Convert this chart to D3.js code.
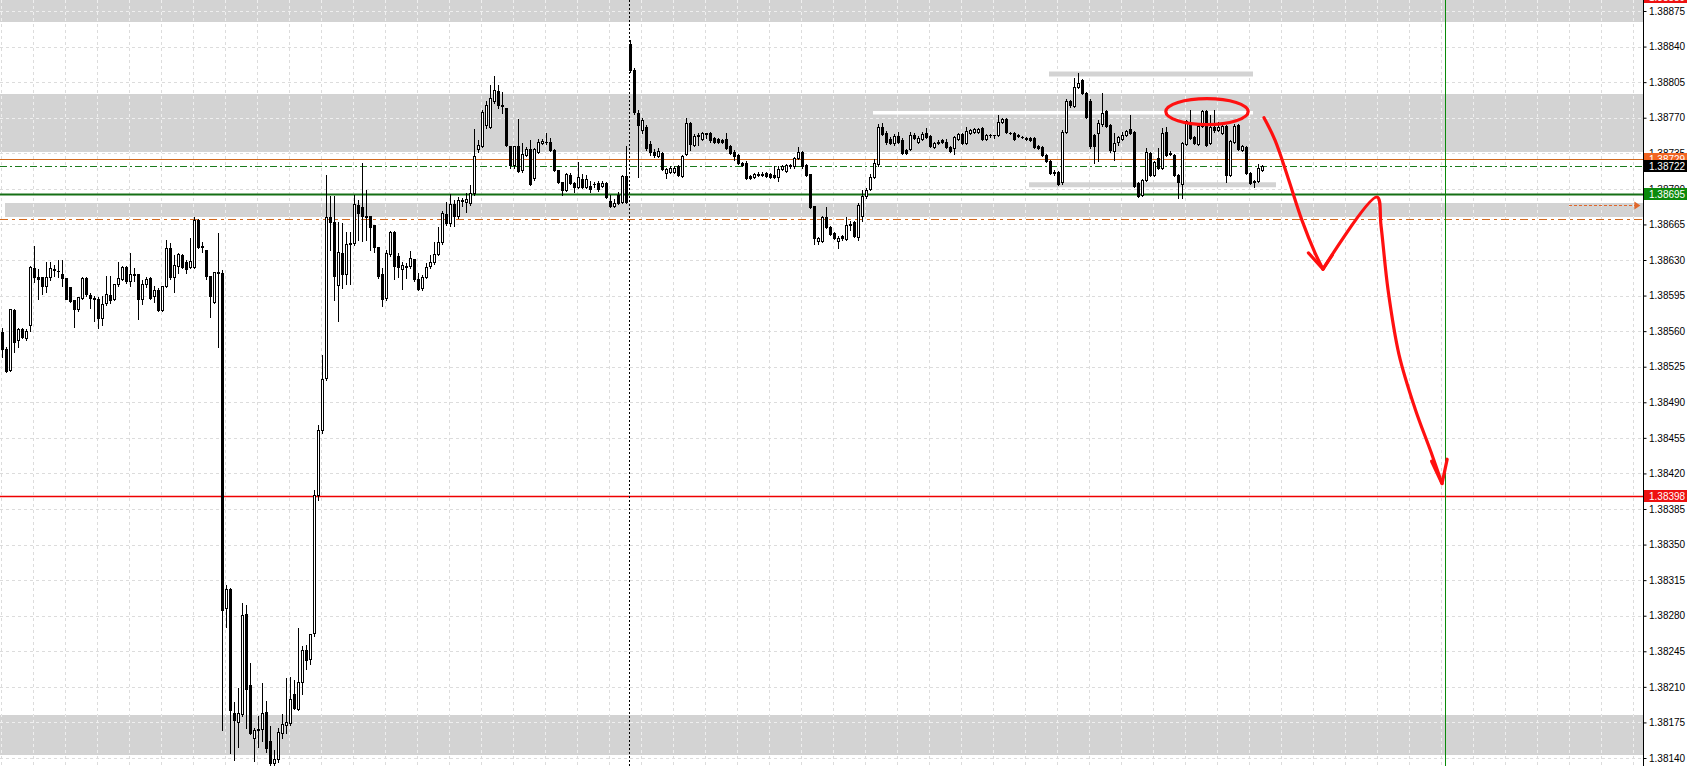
<!DOCTYPE html>
<html><head><meta charset="utf-8">
<script src="https://cdn.jsdelivr.net/npm/d3@7"></script>
<style>html,body{margin:0;padding:0;background:#fff;overflow:hidden}</style>
</head><body><svg id="c" width="1687" height="766"></svg>
<script>
// ---------------- data ----------------
const opens = [
1.38559,1.38542,1.38522,1.38581,1.38551,1.38562,1.38553,1.38566,1.38622,1.38613,
1.38613,1.38604,1.38613,1.38621,1.38619,1.38616,1.38612,1.38603,1.38591,1.38582,
1.38593,1.38612,1.38596,1.38593,1.38592,1.38573,1.38588,1.38596,1.38592,1.38606,
1.38611,1.38623,1.38609,1.38616,1.38616,1.38592,1.38606,1.38612,1.38595,1.38600,
1.38581,1.38604,1.38642,1.38613,1.38624,1.38635,1.38628,1.38623,1.38623,1.38669,
1.38643,1.38640,1.38614,1.38589,1.38618,1.38617,1.38288,1.38306,1.38184,1.38175,
1.38183,1.38282,1.38212,1.38160,1.38169,1.38169,1.38185,1.38157,1.38135,1.38139,
1.38165,1.38172,1.38174,1.38203,1.38188,1.38215,1.38246,1.38237,1.38263,1.38399,
1.38463,1.38514,1.38672,1.38667,1.38605,1.38637,1.38616,1.38647,1.38647,1.38684,
1.38682,1.38673,1.38673,1.38664,1.38643,1.38616,1.38593,1.38636,1.38658,1.38634,
1.38621,1.38624,1.38624,1.38631,1.38611,1.38602,1.38613,1.38624,1.38628,1.38636,
1.38648,1.38675,1.38666,1.38685,1.38673,1.38688,1.38687,1.38686,1.38696,1.38739,
1.38742,1.38763,1.38761,1.38786,1.38796,1.38783,1.38780,1.38742,1.38723,1.38742,
1.38719,1.38733,1.38739,1.38711,1.38736,1.38745,1.38746,1.38746,1.38738,1.38719,
1.38707,1.38699,1.38714,1.38706,1.38702,1.38710,1.38702,1.38703,1.38705,1.38706,
1.38703,1.38706,1.38688,1.38683,1.38694,1.38687,1.38713,1.38843,1.38817,1.38775,
1.38758,1.38761,1.38744,1.38736,1.38732,1.38735,1.38716,1.38717,1.38717,1.38722,
1.38713,1.38734,1.38765,1.38743,1.38752,1.38749,1.38754,1.38755,1.38750,1.38749,
1.38748,1.38749,1.38742,1.38736,1.38733,1.38725,1.38725,1.38713,1.38712,1.38715,
1.38714,1.38716,1.38715,1.38714,1.38712,1.38720,1.38718,1.38722,1.38722,1.38730,
1.38736,1.38723,1.38715,1.38683,1.38649,1.38649,1.38672,1.38662,1.38657,1.38649,
1.38654,1.38651,1.38664,1.38667,1.38653,1.38673,1.38693,1.38700,1.38712,1.38724,
1.38761,1.38755,1.38749,1.38745,1.38752,1.38748,1.38738,1.38739,1.38753,1.38746,
1.38749,1.38755,1.38752,1.38741,1.38745,1.38748,1.38746,1.38741,1.38740,1.38749,
1.38754,1.38745,1.38755,1.38756,1.38756,1.38760,1.38749,1.38753,1.38753,1.38753,
1.38766,1.38769,1.38755,1.38755,1.38753,1.38751,1.38750,1.38750,1.38750,1.38742,
1.38741,1.38733,1.38727,1.38717,1.38717,1.38707,1.38756,1.38786,1.38782,1.38800,
1.38807,1.38794,1.38786,1.38753,1.38755,1.38764,1.38777,1.38763,1.38737,1.38746,
1.38749,1.38753,1.38759,1.38756,1.38706,1.38694,1.38709,1.38735,1.38714,1.38730,
1.38721,1.38756,1.38735,1.38733,1.38714,1.38705,1.38744,1.38766,1.38751,1.38744,
1.38762,1.38777,1.38745,1.38761,1.38758,1.38755,1.38762,1.38714,1.38746,1.38763,
1.38738,1.38741,1.38716,1.38708,1.38708,1.38719];
const highs = [
1.38563,1.38544,1.38582,1.38582,1.38563,1.38563,1.38562,1.38624,1.38644,1.38621,
1.38613,1.38628,1.38628,1.38625,1.38630,1.38630,1.38612,1.38603,1.38591,1.38594,
1.38613,1.38613,1.38598,1.38595,1.38594,1.38595,1.38614,1.38614,1.38606,1.38628,
1.38624,1.38624,1.38637,1.38622,1.38616,1.38610,1.38613,1.38613,1.38604,1.38602,
1.38604,1.38650,1.38647,1.38635,1.38637,1.38636,1.38630,1.38652,1.38672,1.38670,
1.38648,1.38640,1.38614,1.38618,1.38657,1.38620,1.38310,1.38307,1.38195,1.38209,
1.38293,1.38291,1.38233,1.38170,1.38181,1.38214,1.38196,1.38171,1.38148,1.38170,
1.38183,1.38219,1.38220,1.38217,1.38268,1.38250,1.38251,1.38262,1.38404,1.38468,
1.38537,1.38714,1.38693,1.38693,1.38667,1.38666,1.38658,1.38658,1.38694,1.38689,
1.38725,1.38699,1.38673,1.38664,1.38643,1.38622,1.38640,1.38659,1.38659,1.38637,
1.38628,1.38627,1.38639,1.38631,1.38617,1.38615,1.38627,1.38635,1.38648,1.38662,
1.38678,1.38687,1.38695,1.38689,1.38692,1.38691,1.38696,1.38704,1.38759,1.38748,
1.38778,1.38786,1.38802,1.38811,1.38802,1.38795,1.38780,1.38742,1.38742,1.38769,
1.38745,1.38741,1.38748,1.38740,1.38749,1.38749,1.38755,1.38750,1.38739,1.38719,
1.38707,1.38716,1.38716,1.38707,1.38726,1.38715,1.38714,1.38708,1.38707,1.38708,
1.38708,1.38707,1.38694,1.38690,1.38697,1.38714,1.38742,1.38846,1.38819,1.38778,
1.38770,1.38763,1.38747,1.38739,1.38740,1.38736,1.38721,1.38722,1.38722,1.38723,
1.38733,1.38770,1.38766,1.38754,1.38755,1.38756,1.38755,1.38756,1.38751,1.38750,
1.38749,1.38755,1.38743,1.38738,1.38734,1.38726,1.38727,1.38714,1.38716,1.38717,
1.38717,1.38717,1.38716,1.38722,1.38722,1.38723,1.38724,1.38724,1.38731,1.38741,
1.38737,1.38724,1.38715,1.38683,1.38653,1.38673,1.38682,1.38663,1.38658,1.38654,
1.38655,1.38672,1.38668,1.38668,1.38686,1.38699,1.38701,1.38715,1.38729,1.38764,
1.38765,1.38757,1.38751,1.38754,1.38756,1.38750,1.38739,1.38756,1.38755,1.38752,
1.38756,1.38760,1.38753,1.38746,1.38748,1.38749,1.38749,1.38742,1.38752,1.38755,
1.38755,1.38761,1.38759,1.38760,1.38760,1.38761,1.38754,1.38754,1.38753,1.38773,
1.38770,1.38770,1.38756,1.38756,1.38754,1.38752,1.38751,1.38751,1.38751,1.38743,
1.38742,1.38734,1.38728,1.38719,1.38718,1.38758,1.38788,1.38787,1.38809,1.38814,
1.38808,1.38795,1.38788,1.38754,1.38768,1.38794,1.38778,1.38764,1.38755,1.38752,
1.38756,1.38758,1.38773,1.38757,1.38707,1.38710,1.38740,1.38736,1.38727,1.38740,
1.38760,1.38761,1.38737,1.38734,1.38715,1.38746,1.38768,1.38778,1.38752,1.38765,
1.38778,1.38778,1.38773,1.38778,1.38766,1.38764,1.38763,1.38748,1.38764,1.38764,
1.38743,1.38742,1.38717,1.38709,1.38724,1.38723];
const lows = [
1.38535,1.38520,1.38521,1.38539,1.38544,1.38553,1.38551,1.38560,1.38608,1.38592,
1.38597,1.38599,1.38610,1.38614,1.38613,1.38604,1.38592,1.38589,1.38564,1.38580,
1.38592,1.38595,1.38583,1.38570,1.38563,1.38566,1.38586,1.38588,1.38591,1.38604,
1.38610,1.38607,1.38604,1.38609,1.38572,1.38587,1.38603,1.38592,1.38589,1.38580,
1.38580,1.38603,1.38611,1.38599,1.38617,1.38622,1.38617,1.38622,1.38622,1.38642,
1.38638,1.38611,1.38574,1.38588,1.38544,1.38168,1.38269,1.38145,1.38138,1.38151,
1.38181,1.38170,1.38164,1.38137,1.38151,1.38157,1.38146,1.38133,1.38133,1.38136,
1.38160,1.38165,1.38172,1.38188,1.38187,1.38203,1.38228,1.38232,1.38260,1.38394,
1.38460,1.38512,1.38640,1.38591,1.38570,1.38602,1.38606,1.38606,1.38645,1.38650,
1.38649,1.38650,1.38640,1.38638,1.38612,1.38585,1.38591,1.38634,1.38611,1.38613,
1.38601,1.38612,1.38622,1.38609,1.38600,1.38600,1.38612,1.38622,1.38626,1.38635,
1.38646,1.38664,1.38663,1.38663,1.38671,1.38683,1.38677,1.38684,1.38694,1.38736,
1.38741,1.38760,1.38760,1.38784,1.38780,1.38775,1.38742,1.38721,1.38721,1.38717,
1.38717,1.38732,1.38704,1.38709,1.38735,1.38744,1.38744,1.38737,1.38718,1.38706,
1.38694,1.38698,1.38705,1.38697,1.38701,1.38701,1.38701,1.38697,1.38702,1.38698,
1.38702,1.38691,1.38682,1.38682,1.38685,1.38686,1.38686,1.38815,1.38774,1.38712,
1.38755,1.38738,1.38733,1.38731,1.38731,1.38719,1.38711,1.38716,1.38716,1.38713,
1.38712,1.38733,1.38738,1.38742,1.38743,1.38748,1.38750,1.38746,1.38745,1.38745,
1.38745,1.38739,1.38734,1.38728,1.38724,1.38722,1.38710,1.38710,1.38711,1.38713,
1.38713,1.38712,1.38711,1.38711,1.38708,1.38719,1.38717,1.38721,1.38721,1.38729,
1.38721,1.38713,1.38681,1.38646,1.38646,1.38648,1.38661,1.38655,1.38651,1.38642,
1.38650,1.38650,1.38660,1.38653,1.38650,1.38668,1.38691,1.38699,1.38711,1.38722,
1.38753,1.38744,1.38744,1.38743,1.38745,1.38734,1.38734,1.38738,1.38749,1.38745,
1.38748,1.38750,1.38741,1.38740,1.38744,1.38745,1.38740,1.38736,1.38734,1.38748,
1.38744,1.38744,1.38754,1.38755,1.38755,1.38748,1.38748,1.38751,1.38750,1.38752,
1.38765,1.38755,1.38754,1.38748,1.38751,1.38750,1.38748,1.38747,1.38740,1.38739,
1.38732,1.38726,1.38715,1.38714,1.38704,1.38705,1.38755,1.38781,1.38781,1.38799,
1.38793,1.38770,1.38740,1.38725,1.38727,1.38762,1.38761,1.38736,1.38728,1.38743,
1.38748,1.38752,1.38754,1.38702,1.38692,1.38693,1.38708,1.38713,1.38713,1.38720,
1.38720,1.38732,1.38733,1.38713,1.38691,1.38691,1.38743,1.38749,1.38744,1.38743,
1.38761,1.38742,1.38744,1.38756,1.38757,1.38754,1.38707,1.38713,1.38745,1.38738,
1.38737,1.38715,1.38705,1.38702,1.38707,1.38718];
const closes = [
1.38542,1.38521,1.38582,1.38549,1.38562,1.38554,1.38560,1.38623,1.38613,1.38611,
1.38604,1.38613,1.38622,1.38620,1.38619,1.38612,1.38592,1.38590,1.38582,1.38594,
1.38612,1.38597,1.38593,1.38592,1.38573,1.38587,1.38597,1.38591,1.38606,1.38612,
1.38623,1.38609,1.38616,1.38615,1.38592,1.38606,1.38611,1.38593,1.38600,1.38581,
1.38604,1.38642,1.38613,1.38625,1.38636,1.38623,1.38621,1.38629,1.38669,1.38643,
1.38644,1.38614,1.38595,1.38618,1.38617,1.38286,1.38306,1.38187,1.38177,1.38184,
1.38281,1.38208,1.38165,1.38168,1.38168,1.38184,1.38150,1.38135,1.38139,1.38166,
1.38173,1.38175,1.38198,1.38189,1.38215,1.38246,1.38236,1.38262,1.38399,1.38463,
1.38513,1.38672,1.38667,1.38614,1.38638,1.38616,1.38646,1.38646,1.38685,1.38676,
1.38673,1.38672,1.38662,1.38643,1.38614,1.38592,1.38637,1.38658,1.38624,1.38623,
1.38625,1.38623,1.38632,1.38611,1.38601,1.38613,1.38623,1.38628,1.38636,1.38648,
1.38676,1.38666,1.38685,1.38673,1.38689,1.38689,1.38690,1.38696,1.38732,1.38743,
1.38776,1.38783,1.38789,1.38797,1.38783,1.38782,1.38743,1.38723,1.38742,1.38718,
1.38734,1.38739,1.38705,1.38739,1.38746,1.38747,1.38746,1.38738,1.38719,1.38707,
1.38699,1.38715,1.38706,1.38702,1.38712,1.38702,1.38710,1.38700,1.38705,1.38700,
1.38706,1.38692,1.38683,1.38686,1.38686,1.38713,1.38687,1.38817,1.38776,1.38763,
1.38768,1.38740,1.38736,1.38733,1.38737,1.38720,1.38720,1.38721,1.38721,1.38714,
1.38732,1.38765,1.38744,1.38752,1.38753,1.38755,1.38755,1.38748,1.38746,1.38746,
1.38746,1.38740,1.38735,1.38732,1.38725,1.38723,1.38711,1.38711,1.38715,1.38714,
1.38715,1.38713,1.38712,1.38712,1.38720,1.38722,1.38723,1.38723,1.38730,1.38736,
1.38722,1.38714,1.38682,1.38652,1.38652,1.38672,1.38662,1.38656,1.38652,1.38652,
1.38652,1.38664,1.38665,1.38654,1.38684,1.38693,1.38699,1.38712,1.38725,1.38761,
1.38754,1.38746,1.38745,1.38752,1.38746,1.38735,1.38735,1.38753,1.38750,1.38750,
1.38754,1.38751,1.38742,1.38745,1.38746,1.38746,1.38741,1.38737,1.38751,1.38754,
1.38745,1.38757,1.38758,1.38759,1.38759,1.38749,1.38753,1.38753,1.38753,1.38766,
1.38769,1.38756,1.38755,1.38749,1.38752,1.38751,1.38749,1.38748,1.38741,1.38740,
1.38733,1.38727,1.38716,1.38716,1.38705,1.38756,1.38786,1.38783,1.38800,1.38804,
1.38794,1.38771,1.38742,1.38742,1.38765,1.38775,1.38762,1.38738,1.38745,1.38751,
1.38753,1.38757,1.38755,1.38703,1.38693,1.38709,1.38736,1.38714,1.38726,1.38721,
1.38755,1.38733,1.38734,1.38714,1.38707,1.38745,1.38767,1.38750,1.38745,1.38762,
1.38777,1.38743,1.38761,1.38758,1.38761,1.38762,1.38714,1.38747,1.38762,1.38739,
1.38742,1.38716,1.38706,1.38707,1.38721,1.38722];

const tickLabels = ["1.38140","1.38175","1.38210","1.38245","1.38280","1.38315","1.38350","1.38385",
  "1.38420","1.38455","1.38490","1.38525","1.38560","1.38595","1.38630","1.38665","1.38700","1.38735",
  "1.38770","1.38805","1.38840","1.38875"];

// supply / demand zones (price ranges) and the bar index where each starts
const zoneLow   = [1.38864, 1.38736, 1.38672, 1.38143];
const zoneHigh  = [1.38910, 1.38793, 1.38686, 1.38182];
const zoneStart = [-0.5, -0.5, 0.75, -0.5];

// short horizontal marker lines (price, from bar, to bar)
const segPrice = [1.38813, 1.38775, 1.38704];
const segFrom  = [261.75, 217.75, 256.75];
const segTo    = [312.75, 312.75, 318.5];
const segColor = ["#d3d3d3", "#ffffff", "#d3d3d3"];

// horizontal levels
const levelPrice = [1.38729, 1.38722, 1.38695, 1.38670, 1.38398];
const levelLabels = [
  {p: 1.38889, t: "1.38889", bg: "#ee1111", fg: "#fff"},
  {p: 1.38729, t: "1.38729", bg: "#f26522", fg: "#fff"},
  {p: 1.38722, t: "1.38722", bg: "#000000", fg: "#fff"},
  {p: 1.38695, t: "1.38695", bg: "#0b8a0b", fg: "#fff"},
  {p: 1.38398, t: "1.38398", bg: "#ee1111", fg: "#fff"}
];
const arrowLevel = 1.38684, arrowFrom = 391.75, arrowTo = 409.6;

// vertical markers (bar index)
const periodSep = 157;
const futureLine = 360.75;

// hand-drawn annotation (bar index, price)
const ellipseC = [301.25, 1.38776], ellipseR = [10.3, 0.000128];
const path1 = [[315.5,1.38770],[318.25,1.38748],[321.5,1.38711],[325,1.38669],[328.25,1.38637],[330.25,1.38621]];
const head1 = [[326.6,1.38637],[330.25,1.38621],[332.6,1.38635]];
const path2 = [[330.25,1.38621],[343.75,1.38692],[344.75,1.38664],[346.5,1.38601],[349.25,1.38537],[353.25,1.38484],[357.25,1.38441],[360.0,1.38410]];
const head2 = [[357.4,1.38432],[360.0,1.38410],[361.3,1.38434]];

// ---------------- drawing ----------------
const W = 1687, H = 766, AXIS_X = 1643;
const svg = d3.select('#c');
const x = d3.scaleLinear().domain([0, 410]).range([2, 1642]);
const y = d3.scaleLinear().domain([1.38140, 1.38875]).range([758, 11]);
const tickVals = tickLabels.map(Number);
const FONT = "'Liberation Sans', Arial, sans-serif";

svg.append('rect').attr('width', W).attr('height', H).attr('fill', '#fff');
const defs = svg.append('defs');
defs.append('clipPath').attr('id', 'plot').append('rect').attr('x', 0).attr('y', 0).attr('width', AXIS_X).attr('height', H);
const plot = svg.append('g').attr('clip-path', 'url(#plot)');

const zones = zoneLow.map((l, i) => ({l, h: zoneHigh[i], s: zoneStart[i]}));
const zoneRect = sel => sel
  .attr('x', d => Math.round(x(d.s)))
  .attr('y', d => Math.round(y(d.h)))
  .attr('width', d => AXIS_X - Math.round(x(d.s)))
  .attr('height', d => Math.round(y(d.l)) - Math.round(y(d.h)));

plot.append('g').selectAll('rect').data(zones).join('rect').call(zoneRect).attr('fill', '#d3d3d3');
defs.append('clipPath').attr('id', 'zoneclip').selectAll('rect').data(zones).join('rect').call(zoneRect);

const gridCols = d3.range(-0.25, 410, 8);
function grid(g, color) {
  g.selectAll('line.h').data(tickVals).join('line').attr('class', 'h')
    .attr('x1', 0).attr('x2', AXIS_X)
    .attr('y1', d => Math.round(y(d)) + 0.5).attr('y2', d => Math.round(y(d)) + 0.5)
    .attr('stroke', color).attr('stroke-dasharray', '3,3');
  g.selectAll('line.v').data(gridCols).join('line').attr('class', 'v')
    .attr('x1', d => Math.round(x(d)) + 0.5).attr('x2', d => Math.round(x(d)) + 0.5)
    .attr('y1', 0).attr('y2', H)
    .attr('stroke', color).attr('stroke-dasharray', '3,3');
}
grid(plot.append('g'), '#dcdcdc');
grid(plot.append('g').attr('clip-path', 'url(#zoneclip)'), '#efefef');

// short marker segments
plot.append('g').selectAll('line').data(segPrice).join('line')
  .attr('x1', (d, i) => x(segFrom[i])).attr('x2', (d, i) => x(segTo[i]))
  .attr('y1', d => y(d)).attr('y2', d => y(d))
  .attr('stroke', (d, i) => segColor[i]).attr('stroke-width', (d, i) => i === 1 ? 3.5 : 5);

// levels
const levelStyle = [
  {c: '#d2691e', w: 1, dash: null},
  {c: '#1b7a1b', w: 1, dash: '7,3,2,3'},
  {c: '#156f15', w: 2, dash: null},
  {c: '#d2691e', w: 1, dash: '8,4,3,4'},
  {c: '#ee0000', w: 1.6, dash: null}
];
plot.append('g').selectAll('line').data(levelPrice).join('line')
  .attr('x1', 0).attr('x2', AXIS_X)
  .attr('y1', d => Math.round(y(d)) + 0.5).attr('y2', d => Math.round(y(d)) + 0.5)
  .attr('stroke', (d, i) => levelStyle[i].c)
  .attr('stroke-width', (d, i) => levelStyle[i].w)
  .attr('stroke-dasharray', (d, i) => levelStyle[i].dash);

// orange dotted arrow at the right
const ay = Math.round(y(arrowLevel)) + 0.5;
plot.append('line').attr('x1', x(arrowFrom)).attr('x2', x(arrowTo) - 4).attr('y1', ay).attr('y2', ay)
  .attr('stroke', '#e0662a').attr('stroke-dasharray', '3,2');
plot.append('path').attr('d', `M${x(arrowTo) - 6},${ay - 4}L${x(arrowTo)},${ay}L${x(arrowTo) - 6},${ay + 4}Z`).attr('fill', '#e0662a');

// vertical lines
const sx = Math.round(x(periodSep)) - 0.5;
plot.append('line').attr('x1', sx).attr('x2', sx).attr('y1', 0).attr('y2', H)
  .attr('stroke', '#000').attr('stroke-dasharray', '2,2');
const fx = Math.round(x(futureLine)) + 0.5;
plot.append('line').attr('x1', fx).attr('x2', fx).attr('y1', 0).attr('y2', H).attr('stroke', '#0a8a0a');

// candles
const bars = opens.map((o, i) => ({i, o, h: highs[i], l: lows[i], c: closes[i]}));
const cg = plot.append('g').attr('shape-rendering', 'crispEdges');
const cand = cg.selectAll('g').data(bars).join('g');
const px = d => Math.round(x(d.i));
const bTop = d => Math.min(Math.round(y(d.o)), Math.round(y(d.c)));
const bBot = d => Math.max(Math.round(y(d.o)), Math.round(y(d.c)));
const isFilled = d => bBot(d) - bTop(d) < 2 || d.c < d.o;
cand.append('rect').attr('x', d => px(d)).attr('width', 1)
  .attr('y', d => Math.round(y(d.h))).attr('height', d => Math.round(y(d.l)) - Math.round(y(d.h)) + 1)
  .attr('fill', '#000');
cand.append('rect')
  .attr('x', d => px(d) - 1).attr('width', 3)
  .attr('y', d => bTop(d)).attr('height', d => Math.max(1, bBot(d) - bTop(d) + 1))
  .attr('fill', '#000');
cand.filter(d => !isFilled(d)).append('rect')
  .attr('x', d => px(d)).attr('width', 1)
  .attr('y', d => bTop(d) + 1).attr('height', d => Math.max(0, bBot(d) - bTop(d) - 1))
  .attr('fill', '#fff');

// red hand-drawn annotation
const ann = plot.append('g').attr('fill', 'none').attr('stroke', '#ff1010').attr('stroke-width', 3.2)
  .attr('stroke-linecap', 'round').attr('stroke-linejoin', 'round');
ann.append('ellipse').attr('cx', x(ellipseC[0])).attr('cy', y(ellipseC[1]))
  .attr('rx', x(ellipseC[0] + ellipseR[0]) - x(ellipseC[0]))
  .attr('ry', y(ellipseC[1] - ellipseR[1]) - y(ellipseC[1]));
const ln = d3.line().x(d => x(d[0])).y(d => y(d[1])).curve(d3.curveCatmullRom);
const lnStraight = d3.line().x(d => x(d[0])).y(d => y(d[1]));
ann.append('path').attr('d', ln(path1));
ann.append('path').attr('d', lnStraight(head1));
ann.append('path').attr('d', ln(path2));
ann.append('path').attr('d', lnStraight(head2));

// axis
const axis = d3.axisRight(y).tickValues(tickVals).tickFormat((d, i) => tickLabels[i]).tickSize(3).tickSizeOuter(0);
const ag = svg.append('g').attr('transform', `translate(${AXIS_X + 0.5},0)`).call(axis);
ag.select('.domain').remove();
ag.selectAll('line').attr('stroke', '#000');
ag.selectAll('text').attr('x', 5.5).attr('font-family', FONT).attr('font-size', '10px').attr('fill', '#000');
svg.append('line').attr('x1', AXIS_X + 0.5).attr('x2', AXIS_X + 0.5).attr('y1', 0).attr('y2', H).attr('stroke', '#000');

// price labels on the axis
const lab = svg.append('g').selectAll('g').data(levelLabels).join('g')
  .attr('transform', d => `translate(${AXIS_X + 1},${Math.round(y(d.p))})`);
lab.append('rect').attr('x', 0).attr('y', -6).attr('width', W - AXIS_X - 1).attr('height', 12).attr('fill', d => d.bg);
lab.append('text').attr('x', 5).attr('y', 0).attr('dy', '0.35em').text(d => d.t)
  .attr('font-family', FONT).attr('font-size', '10px').attr('fill', d => d.fg);
</script>
</body></html>
